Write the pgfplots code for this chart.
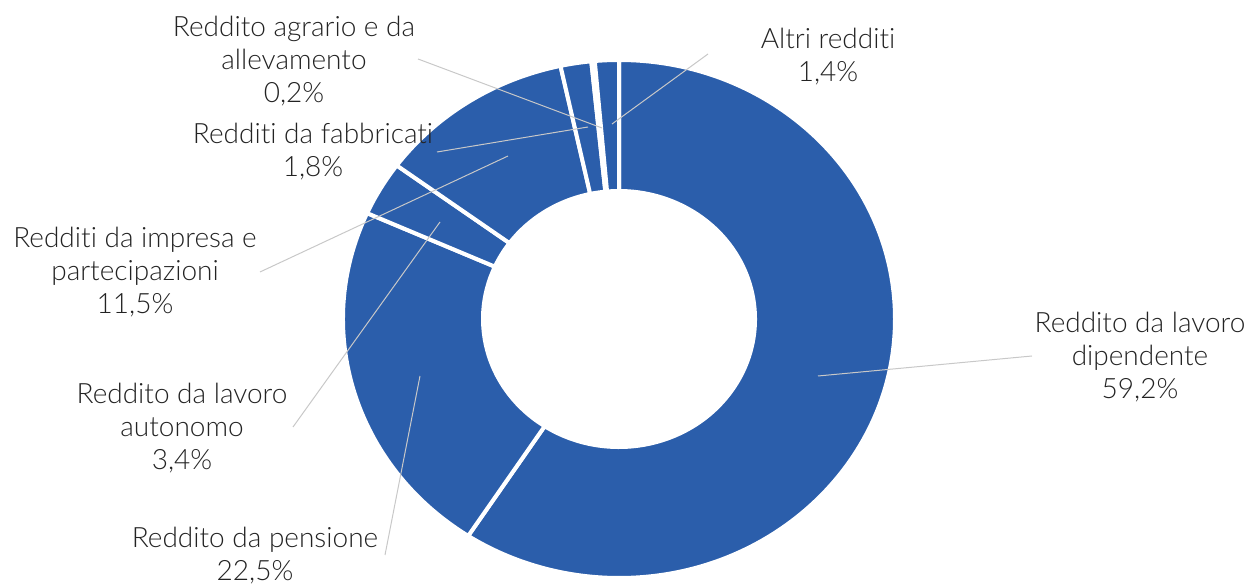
\documentclass[border=0pt]{standalone}
\usepackage{fontspec}
\setmainfont{Lato Light}[Ligatures={NoCommon}]
\usepackage{pgfplots}
\usepackage{pgfplotstable}
\pgfplotsset{compat=1.18}
\definecolor{slice}{RGB}{43,94,171}
\definecolor{lead}{RGB}{200,200,200}
\definecolor{txt}{RGB}{35,35,35}

% shares (%), clockwise from 12 o'clock
\pgfplotstableread{
label value
dip 59.2
pen 22.5
aut 3.4
imp 11.5
fab 1.8
agr 0.2
alt 1.4
}\datatable

\begin{document}
\begin{tikzpicture}
\useasboundingbox (0,0) rectangle (625pt,292pt);
% cumulative angles
\def\cum{0}
\pgfplotsforeachungrouped \i in {0,...,6}{%
  \pgfplotstablegetelem{\i}{value}\of\datatable
  \let\v\pgfplotsretval
  \pgfmathsetmacro\a{90-3.6*\cum}%
  \pgfmathsetmacro\cum{\cum+\v}%
  \pgfmathsetmacro\b{90-3.6*\cum}%
  \expandafter\xdef\csname sa\i\endcsname{\a}%
  \expandafter\xdef\csname sb\i\endcsname{\b}%
}
\begin{axis}[
  width=625pt, height=292pt, scale only axis,
  xmin=0, xmax=1250, ymin=0, ymax=584,
  hide axis, clip=false,
]
\pgfplotsinvokeforeach{0,...,6}{%
  \fill[slice, draw=white, line width=2pt]
    (axis cs:{619+276*cos(\csname sa#1\endcsname)},{265+259*sin(\csname sa#1\endcsname)})
    arc[start angle=\csname sa#1\endcsname, end angle=\csname sb#1\endcsname, x radius=138pt, y radius=129.5pt]
    -- (axis cs:{619+136*cos(\csname sb#1\endcsname)},{265+128*sin(\csname sb#1\endcsname)})
    arc[start angle=\csname sb#1\endcsname, end angle=\csname sa#1\endcsname, x radius=68pt, y radius=64pt]
    -- cycle;
}
% leader lines
\addplot[lead, line width=0.5pt, forget plot] coordinates {(418,525) (602,456)};
\addplot[lead, line width=0.5pt, forget plot] coordinates {(708,530) (612,460)};
\addplot[lead, line width=0.5pt, forget plot] coordinates {(437,432) (588,457)};
\addplot[lead, line width=0.5pt, forget plot] coordinates {(260,312) (508,428)};
\addplot[lead, line width=0.5pt, forget plot] coordinates {(293,157) (440,362)};
\addplot[lead, line width=0.5pt, forget plot] coordinates {(385,29) (420,208)};
\addplot[lead, line width=0.5pt, forget plot] coordinates {(1032,228) (818,208)};
% labels
\tikzset{lab/.style={align=center, text=txt, font=\fontsize{14}{16.5}\selectfont, inner sep=0pt}}
\node[lab] at (axis cs:294,523) {Reddito agrario e da\\allevamento\\0,2\%};
\node[lab] at (axis cs:828,527.5) {Altri redditi\\1,4\%};
\node[lab] at (axis cs:313,432) {Redditi da fabbricati\\1,8\%};
\node[lab] at (axis cs:135,312) {Redditi da impresa e\\partecipazioni\\11,5\%};
\node[lab] at (axis cs:182,156) {Reddito da lavoro\\autonomo\\3,4\%};
\node[lab] at (axis cs:255,28) {Reddito da pensione\\22,5\%};
\node[lab] at (axis cs:1140,227) {Reddito da lavoro\\dipendente\\59,2\%};
\end{axis}
\end{tikzpicture}
\end{document}
